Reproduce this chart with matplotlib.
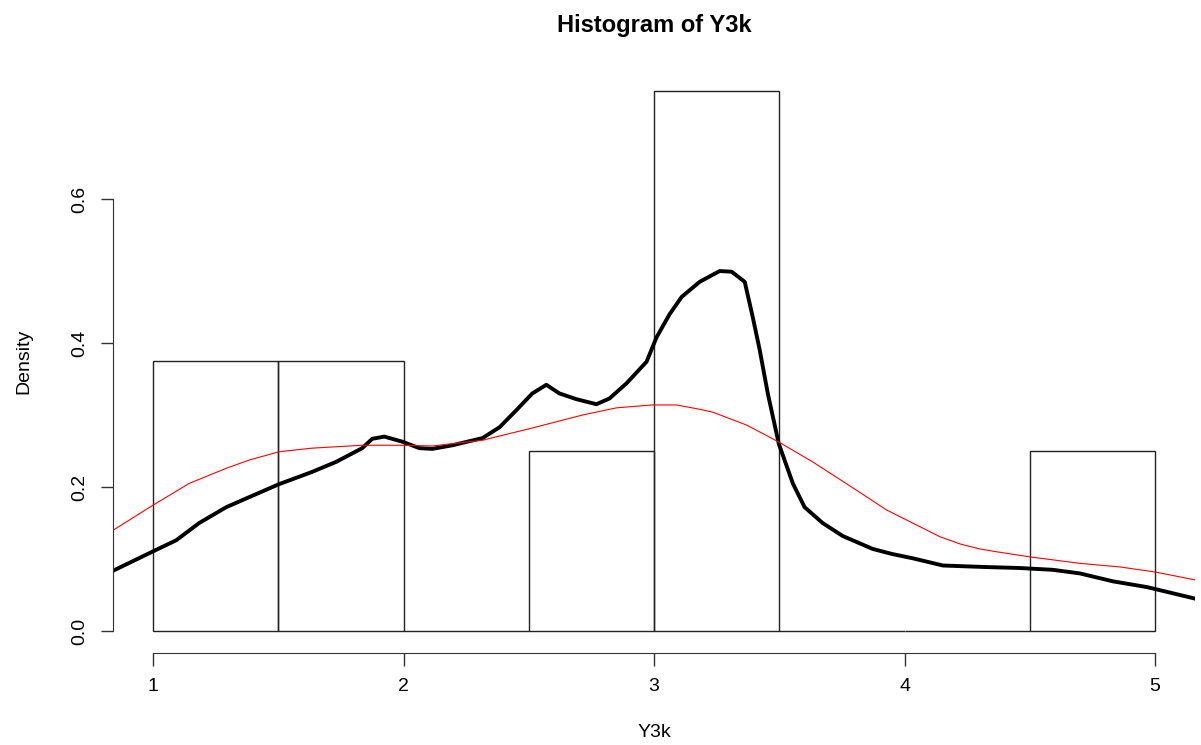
import numpy as np
import matplotlib.pyplot as plt

plt.rcParams['font.family'] = ['Liberation Sans', 'DejaVu Sans']

# histogram of Y3k (density scale)
bin_left = [1.0, 1.5, 2.0, 2.5, 3.0, 3.5, 4.0, 4.5]
bin_density = [0.375, 0.375, 0.0, 0.25, 0.75, 0.0, 0.0, 0.25]

# thick black density curve (small bandwidth)
kde_x = [0.836, 0.996, 1.092, 1.184, 1.292, 1.384, 1.503, 1.635, 1.731, 1.835,
         1.875, 1.923, 1.995, 2.063, 2.115, 2.195, 2.315, 2.383, 2.451, 2.514,
         2.570, 2.622, 2.690, 2.770, 2.822, 2.890, 2.970, 3.010, 3.062, 3.110,
         3.182, 3.262, 3.310, 3.362, 3.394, 3.422, 3.454, 3.498, 3.554, 3.601,
         3.673, 3.753, 3.873, 3.950, 4.033, 4.153, 4.313, 4.461, 4.592, 4.700,
         4.832, 4.968, 5.160]
kde_y = [0.083, 0.110, 0.126, 0.150, 0.172, 0.186, 0.204, 0.221, 0.235, 0.254,
         0.267, 0.270, 0.263, 0.254, 0.253, 0.258, 0.268, 0.283, 0.307, 0.330,
         0.342, 0.330, 0.322, 0.315, 0.323, 0.344, 0.374, 0.408, 0.440, 0.464,
         0.485, 0.500, 0.499, 0.485, 0.436, 0.390, 0.330, 0.260, 0.205, 0.172,
         0.150, 0.132, 0.114, 0.107, 0.101, 0.091, 0.089, 0.0875, 0.085, 0.080,
         0.069, 0.061, 0.045]

# thin red density curve (default bandwidth)
red_x = [0.836, 0.996, 1.144, 1.292, 1.384, 1.503, 1.635, 1.835, 1.995, 2.115,
         2.315, 2.514, 2.714, 2.850, 2.994, 3.090, 3.182, 3.234, 3.370, 3.498,
         3.633, 3.793, 3.929, 4.061, 4.141, 4.221, 4.300, 4.369, 4.500, 4.700,
         4.860, 5.000, 5.160]
red_y = [0.139, 0.174, 0.205, 0.226, 0.2375, 0.249, 0.254, 0.258, 0.258, 0.257,
         0.265, 0.282, 0.300, 0.310, 0.314, 0.314, 0.308, 0.304, 0.286, 0.2625,
         0.235, 0.199, 0.168, 0.145, 0.131, 0.121, 0.114, 0.110, 0.103, 0.094,
         0.089, 0.082, 0.071]

fig = plt.figure(figsize=(12.01, 7.45), dpi=100)
ax = fig.add_axes([0.0941, 0.124, 0.901, 0.7828])

ax.bar(bin_left, bin_density, width=0.5, align='edge', fill=False,
       edgecolor='#222222', linewidth=1.0)
ax.plot(kde_x, kde_y, color='black', linewidth=2.8, solid_joinstyle='round')
ax.plot(red_x, red_y, color='red', linewidth=0.8)

ax.set_xlim(0.84, 5.16)
ax.set_ylim(-0.03, 0.78)

for side in ['top', 'right']:
    ax.spines[side].set_visible(False)
ax.spines['left'].set_bounds(0, 0.6)
ax.spines['bottom'].set_bounds(1, 5)
ax.spines['left'].set_color('#333333')
ax.spines['bottom'].set_color('#333333')

ax.set_xticks([1, 2, 3, 4, 5])
ax.set_yticks([0.0, 0.2, 0.4, 0.6])
ax.set_yticklabels(['0.0', '0.2', '0.4', '0.6'], rotation=90, va='center')
ax.tick_params(axis='both', direction='out', length=9, width=1.0,
               color='#333333', labelsize=14, pad=9)

ax.set_title('Histogram of Y3k', fontsize=17, fontweight='bold', pad=27)
ax.set_xlabel('Y3k', fontsize=14, labelpad=21)
ax.set_ylabel('Density', fontsize=14, labelpad=28)

fig.savefig('out.png', dpi=100)
